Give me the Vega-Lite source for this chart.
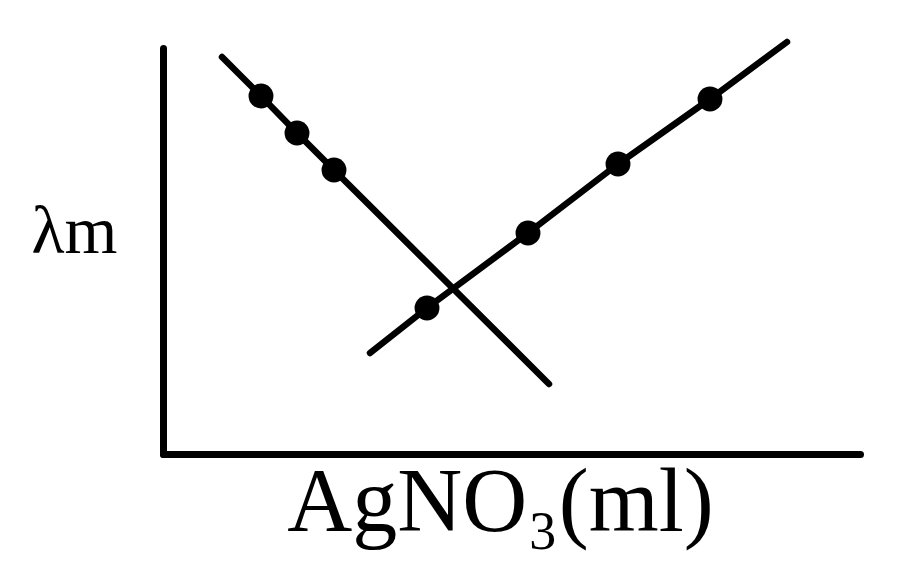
{
  "$schema": "https://vega.github.io/schema/vega-lite/v6.json",
  "width": 697,
  "height": 406,
  "autosize": "none",
  "padding": {"left": 163, "top": 48, "right": 40, "bottom": 121},
  "background": "white",
  "data": {
    "values": [
      {"series": "before", "x": 59, "y": 397, "dot": false},
      {"series": "before", "x": 98, "y": 358, "dot": true},
      {"series": "before", "x": 134, "y": 321, "dot": true},
      {"series": "before", "x": 171, "y": 284, "dot": true},
      {"series": "before", "x": 386, "y": 70, "dot": false},
      {"series": "after", "x": 207, "y": 101, "dot": false},
      {"series": "after", "x": 264, "y": 146, "dot": true},
      {"series": "after", "x": 365, "y": 221, "dot": true},
      {"series": "after", "x": 455, "y": 290, "dot": true},
      {"series": "after", "x": 547, "y": 355, "dot": true},
      {"series": "after", "x": 624, "y": 412, "dot": false}
    ]
  },
  "encoding": {
    "x": {
      "field": "x",
      "type": "quantitative",
      "scale": {"domain": [0, 697], "nice": false, "zero": false},
      "axis": {
        "title": "AgNO₃(ml)",
        "titleFont": "Liberation Serif",
        "titleFontSize": 90,
        "titleFontWeight": "normal",
        "titleColor": "black",
        "titleAlign": "center",
        "titleBaseline": "alphabetic",
        "titleX": 337,
        "titleY": 76,
        "labels": false,
        "ticks": false,
        "grid": false,
        "domainColor": "black",
        "domainWidth": 7,
        "domainCap": "round"
      }
    },
    "y": {
      "field": "y",
      "type": "quantitative",
      "scale": {"domain": [0, 406], "nice": false, "zero": false},
      "axis": {
        "title": "λm",
        "titleFont": "Liberation Serif",
        "titleFontSize": 68,
        "titleFontWeight": "normal",
        "titleColor": "black",
        "titleAngle": 0,
        "titleAlign": "center",
        "titleBaseline": "alphabetic",
        "titleX": -89,
        "titleY": 204,
        "labels": false,
        "ticks": false,
        "grid": false,
        "domainColor": "black",
        "domainWidth": 7,
        "domainCap": "round"
      }
    }
  },
  "layer": [
    {
      "mark": {"type": "line", "color": "black", "strokeWidth": 6.5, "strokeCap": "round", "clip": false},
      "encoding": {
        "detail": {"field": "series", "type": "nominal"},
        "order": {"field": "x", "type": "quantitative"}
      }
    },
    {
      "transform": [{"filter": "datum.dot"}],
      "mark": {"type": "circle", "color": "black", "opacity": 1, "size": 620, "clip": false},
      "encoding": {}
    }
  ],
  "config": {"view": {"stroke": null}}
}
